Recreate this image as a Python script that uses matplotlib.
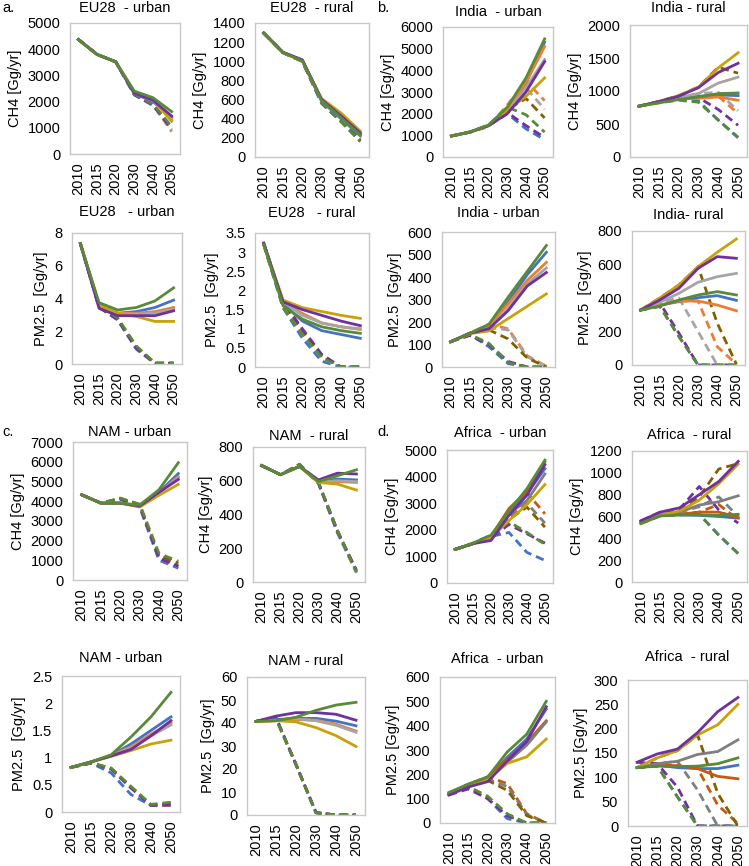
import matplotlib
matplotlib.use("Agg")
import matplotlib.pyplot as plt
from matplotlib.ticker import MultipleLocator, FuncFormatter

plt.rcParams['font.family'] = ['Liberation Sans', 'DejaVu Sans']

years = ["2010", "2015", "2020", "2030", "2040", "2050"]

# series order in every block: blue, orange, gray, gold, purple, green
eu_urban_ch4_solid = [
    [4370, 3800, 3520, 2300, 2000, 1400],
    [4370, 3800, 3520, 2330, 2050, 1300],
    [4370, 3800, 3520, 2330, 2030, 1350],
    [4370, 3800, 3520, 2350, 2080, 1250],
    [4370, 3800, 3520, 2320, 2050, 1450],
    [4370, 3800, 3520, 2400, 2150, 1620],
]
eu_urban_ch4_dashed = [
    [4370, 3800, 3520, 2250, 1850, 950],
    [4370, 3800, 3520, 2280, 1900, 850],
    [4370, 3800, 3520, 2270, 1880, 900],
    [4370, 3800, 3520, 2300, 1900, 1000],
    [4370, 3800, 3520, 2270, 1870, 950],
    [4370, 3800, 3520, 2290, 1900, 1050],
]
eu_rural_ch4_solid = [
    [1295, 1090, 1005, 580, 400, 220],
    [1295, 1090, 1010, 590, 420, 240],
    [1295, 1090, 1010, 590, 410, 230],
    [1295, 1090, 1010, 610, 460, 270],
    [1295, 1095, 1015, 600, 430, 250],
    [1295, 1090, 1005, 590, 410, 230],
]
eu_rural_ch4_dashed = [
    [1295, 1090, 1000, 560, 370, 160],
    [1295, 1090, 1000, 570, 380, 180],
    [1295, 1090, 1000, 570, 380, 175],
    [1295, 1090, 1000, 580, 390, 190],
    [1295, 1090, 1000, 565, 375, 170],
    [1295, 1090, 1000, 560, 370, 165],
]
india_urban_ch4_solid = [
    [970, 1150, 1450, 2100, 3400, 5300],
    [970, 1150, 1450, 2150, 3450, 5100],
    [970, 1150, 1450, 2100, 3200, 4500],
    [970, 1150, 1450, 2150, 2800, 3650],
    [970, 1150, 1450, 2000, 3000, 4400],
    [970, 1160, 1480, 2300, 3650, 5450],
]
india_urban_ch4_dashed = [
    [970, 1150, 1450, 2000, 1300, 800],
    [970, 1150, 1400, 2400, 3500, 2600],
    [970, 1150, 1450, 2300, 3200, 2200],
    [970, 1150, 1450, 2200, 2700, 1800],
    [970, 1150, 1450, 2050, 1450, 900],
    [970, 1160, 1480, 2300, 1950, 1150],
]
india_rural_ch4_solid = [
    [770, 830, 880, 920, 940, 930],
    [770, 830, 880, 890, 910, 860],
    [770, 830, 900, 960, 1120, 1210],
    [770, 840, 930, 1060, 1350, 1580],
    [770, 840, 920, 1050, 1280, 1420],
    [770, 820, 870, 910, 960, 970],
]
india_rural_ch4_dashed = [
    [770, 830, 870, 850, 560, 290],
    [770, 830, 880, 890, 920, 660],
    [770, 830, 900, 960, 980, 700],
    [770, 840, 930, 1060, 1360, 1270],
    [770, 840, 920, 900, 720, 480],
    [770, 820, 860, 830, 560, 300],
]
eu_urban_pm_solid = [
    [7.35, 3.6, 3.1, 3.2, 3.45, 3.9],
    [7.35, 3.6, 3.1, 3.1, 3.2, 3.45],
    [7.35, 3.6, 3.05, 3.05, 3.1, 3.35],
    [7.35, 3.6, 3.1, 2.9, 2.6, 2.6],
    [7.35, 3.4, 2.95, 2.95, 2.95, 3.25],
    [7.35, 3.75, 3.3, 3.45, 3.85, 4.65],
]
eu_urban_pm_dashed = [
    [7.35, 3.5, 2.7, 0.9, 0.03, 0.03],
    [7.35, 3.55, 2.75, 1.0, 0.05, 0.05],
    [7.35, 3.5, 2.7, 0.95, 0.04, 0.04],
    [7.35, 3.55, 2.8, 1.05, 0.06, 0.06],
    [7.35, 3.45, 2.7, 0.95, 0.04, 0.04],
    [7.35, 3.6, 2.8, 1.1, 0.06, 0.06],
]
eu_rural_pm_solid = [
    [3.22, 1.65, 1.2, 0.95, 0.85, 0.75],
    [3.22, 1.7, 1.4, 1.15, 1.05, 0.98],
    [3.22, 1.7, 1.35, 1.15, 1.05, 1.0],
    [3.22, 1.75, 1.55, 1.45, 1.35, 1.27],
    [3.24, 1.7, 1.5, 1.35, 1.2, 1.08],
    [3.2, 1.6, 1.25, 1.05, 0.95, 0.88],
]
eu_rural_pm_dashed = [
    [3.2, 1.55, 0.75, 0.15, 0.0, 0.0],
    [3.22, 1.7, 0.9, 0.28, 0.0, 0.0],
    [3.22, 1.65, 0.85, 0.25, 0.0, 0.0],
    [3.22, 1.7, 0.95, 0.3, 0.0, 0.0],
    [3.24, 1.7, 1.0, 0.33, 0.0, 0.0],
    [3.2, 1.55, 0.85, 0.25, 0.0, 0.0],
]
india_urban_pm_solid = [
    [112, 150, 175, 290, 410, 510],
    [112, 150, 185, 280, 385, 465],
    [112, 150, 170, 260, 370, 440],
    [112, 148, 160, 215, 270, 325],
    [112, 150, 170, 250, 360, 420],
    [112, 150, 190, 310, 425, 540],
]
india_urban_pm_dashed = [
    [112, 145, 90, 15, 0, 0],
    [112, 150, 190, 170, 50, 3],
    [112, 150, 175, 165, 45, 3],
    [112, 150, 165, 125, 40, 0],
    [112, 140, 100, 25, 0, 0],
    [112, 145, 105, 20, 0, 0],
]
india_rural_pm_solid = [
    [328, 358, 378, 402, 414, 386],
    [328, 358, 382, 382, 358, 324],
    [328, 374, 428, 494, 527, 547],
    [328, 400, 478, 587, 673, 752],
    [328, 388, 458, 577, 647, 637],
    [328, 352, 388, 418, 438, 418],
]
india_rural_pm_dashed = [
    [328, 350, 170, 0, 0, 0],
    [328, 358, 382, 382, 110, 5],
    [328, 374, 400, 200, 0, 0],
    [328, 400, 478, 587, 250, 5],
    [328, 370, 190, 0, 0, 0],
    [328, 350, 170, 0, 0, 0],
]
nam_urban_ch4_solid = [
    [4320, 3900, 3900, 3750, 4450, 5400],
    [4320, 3900, 3900, 3750, 4400, 5250],
    [4320, 3900, 3900, 3750, 4420, 5200],
    [4320, 3900, 3900, 3700, 4300, 4850],
    [4320, 3900, 3900, 3750, 4450, 5100],
    [4320, 3900, 3900, 3800, 4580, 5950],
]
nam_urban_ch4_dashed = [
    [4320, 3900, 4100, 3700, 1000, 600],
    [4320, 3900, 4100, 3750, 1150, 750],
    [4320, 3900, 4100, 3750, 1100, 700],
    [4320, 3900, 4150, 3800, 1250, 850],
    [4320, 3900, 4100, 3750, 1100, 700],
    [4320, 3900, 4150, 3850, 1350, 950],
]
nam_rural_ch4_solid = [
    [690, 636, 685, 595, 610, 605],
    [690, 636, 685, 590, 595, 590],
    [690, 636, 685, 592, 600, 595],
    [690, 636, 685, 590, 580, 545],
    [690, 636, 685, 605, 645, 640],
    [690, 636, 685, 595, 630, 665],
]
nam_rural_ch4_dashed = [
    [690, 636, 692, 585, 290, 55],
    [690, 636, 695, 585, 300, 60],
    [690, 636, 693, 585, 295, 58],
    [690, 636, 697, 588, 305, 65],
    [690, 636, 694, 585, 298, 70],
    [690, 636, 698, 590, 305, 60],
]
africa_urban_ch4_solid = [
    [1265, 1480, 1750, 2650, 3350, 4300],
    [1265, 1480, 1750, 2800, 3450, 4550],
    [1265, 1480, 1750, 2600, 3100, 4100],
    [1265, 1480, 1700, 2350, 2950, 3700],
    [1265, 1480, 1600, 2550, 3300, 4450],
    [1265, 1500, 1800, 2700, 3550, 4620],
]
africa_urban_ch4_dashed = [
    [1265, 1480, 1750, 1900, 1150, 850],
    [1265, 1480, 1750, 2500, 3400, 2600],
    [1265, 1480, 1750, 2450, 3000, 2250],
    [1265, 1480, 1750, 2400, 2850, 2100],
    [1265, 1480, 1700, 2200, 1850, 1500],
    [1265, 1500, 1800, 2300, 1900, 1450],
]
africa_rural_ch4_solid = [
    [547, 610, 615, 610, 600, 585],
    [547, 610, 620, 640, 640, 590],
    [547, 615, 640, 705, 735, 790],
    [547, 615, 650, 750, 900, 1080],
    [560, 640, 680, 800, 920, 1105],
    [535, 605, 615, 615, 610, 620],
]
africa_rural_ch4_dashed = [
    [547, 610, 615, 620, 430, 260],
    [547, 610, 620, 640, 710, 570],
    [547, 615, 640, 690, 780, 600],
    [547, 615, 650, 780, 1035, 1085],
    [560, 640, 670, 875, 660, 540],
    [535, 605, 615, 620, 430, 260],
]
nam_urban_pm_solid = [
    [0.82, 0.92, 1.04, 1.25, 1.5, 1.75],
    [0.82, 0.92, 1.04, 1.2, 1.43, 1.64],
    [0.82, 0.92, 1.03, 1.18, 1.4, 1.6],
    [0.82, 0.92, 1.02, 1.13, 1.25, 1.32],
    [0.82, 0.92, 1.03, 1.15, 1.4, 1.68],
    [0.82, 0.92, 1.05, 1.38, 1.75, 2.2],
]
nam_urban_pm_dashed = [
    [0.82, 0.9, 0.72, 0.32, 0.12, 0.12],
    [0.82, 0.9, 0.8, 0.45, 0.12, 0.12],
    [0.82, 0.9, 0.8, 0.45, 0.13, 0.14],
    [0.82, 0.9, 0.8, 0.46, 0.13, 0.15],
    [0.82, 0.9, 0.79, 0.44, 0.12, 0.13],
    [0.82, 0.9, 0.81, 0.47, 0.14, 0.18],
]
nam_rural_pm_solid = [
    [40.7, 41.5, 42, 42, 40.8, 38.8],
    [40.7, 41, 41.5, 41.2, 39.5, 36.5],
    [40.7, 41, 41.8, 41, 39, 36],
    [40.7, 41, 40.5, 38, 34.5, 29.8],
    [40.7, 43, 44.5, 44.5, 43.8, 41.2],
    [40.7, 41, 42.5, 45.5, 47.8, 49],
]
nam_rural_pm_dashed = [
    [40.7, 42, 21.8, 1.0, 0, 0],
    [40.7, 42, 21.8, 1.0, 0, 0],
    [40.7, 42, 21.8, 1.0, 0, 0],
    [40.7, 42, 22, 1.0, 0, 0],
    [40.7, 42.5, 22, 1.0, 0, 0],
    [40.7, 42, 22, 1.0, 0, 0],
]
africa_urban_pm_solid = [
    [120, 158, 185, 270, 345, 468],
    [120, 158, 190, 262, 330, 420],
    [120, 158, 180, 250, 320, 415],
    [120, 158, 180, 245, 272, 345],
    [115, 148, 170, 255, 335, 478],
    [125, 160, 189, 292, 365, 500],
]
africa_urban_pm_dashed = [
    [120, 145, 100, 18, 0, 0],
    [120, 158, 190, 162, 38, 0],
    [120, 158, 180, 150, 35, 0],
    [120, 158, 175, 134, 30, 0],
    [115, 140, 100, 30, 0, 0],
    [125, 150, 110, 38, 0, 0],
]
africa_rural_pm_solid = [
    [120, 125, 120, 118, 118, 125],
    [120, 125, 124, 118, 102, 97],
    [120, 128, 133, 147, 153, 177],
    [120, 140, 155, 187, 208, 250],
    [131, 148, 158, 192, 235, 264],
    [120, 123, 122, 123, 128, 140],
]
africa_rural_pm_dashed = [
    [120, 123, 60, 0, 0, 0],
    [120, 125, 124, 118, 43, 5],
    [120, 128, 133, 74, 0, 0],
    [120, 140, 155, 187, 67, 0],
    [131, 128, 80, 0, 0, 0],
    [120, 123, 60, 0, 0, 0],
]

titles = ["EU28  - urban", "EU28  - rural", "India  - urban", "India - rural",
          "EU28   - urban", "EU28   - rural", "India - urban", "India- rural",
          "NAM - urban", "NAM  - rural", "Africa  - urban", "Africa  - rural",
          "NAM - urban", "NAM - rural", "Africa  - urban", "Africa  - rural"]
ylabels = ["CH4 [Gg/yr]"] * 4 + ["PM2.5  [Gg/yr]"] * 4 + ["CH4 [Gg/yr]"] * 4 + \
          ["PM2.5  [Gg/yr]", "PM2.5  [Gg/yr]", "PM2.5 [Gg/yr]", "PM2.5 [Gg/yr]"]
ymax = [5000, 1400, 6000, 2000, 8, 3.5, 600, 800,
        7000, 800, 5000, 1200, 2.5, 60, 600, 300]
ystep = [1000, 200, 1000, 500, 2, 0.5, 100, 200,
         1000, 200, 1000, 200, 0.5, 10, 100, 50]
solid = [eu_urban_ch4_solid, eu_rural_ch4_solid, india_urban_ch4_solid, india_rural_ch4_solid,
         eu_urban_pm_solid, eu_rural_pm_solid, india_urban_pm_solid, india_rural_pm_solid,
         nam_urban_ch4_solid, nam_rural_ch4_solid, africa_urban_ch4_solid, africa_rural_ch4_solid,
         nam_urban_pm_solid, nam_rural_pm_solid, africa_urban_pm_solid, africa_rural_pm_solid]
dashed = [eu_urban_ch4_dashed, eu_rural_ch4_dashed, india_urban_ch4_dashed, india_rural_ch4_dashed,
          eu_urban_pm_dashed, eu_rural_pm_dashed, india_urban_pm_dashed, india_rural_pm_dashed,
          nam_urban_ch4_dashed, nam_rural_ch4_dashed, africa_urban_ch4_dashed, africa_rural_ch4_dashed,
          nam_urban_pm_dashed, nam_rural_pm_dashed, africa_urban_pm_dashed, africa_rural_pm_dashed]

# layout in pixels: left, top, right, bottom of each plot area
boxes = [(70, 23, 180, 154), (255, 23, 369, 157), (443, 27, 553, 157), (630, 25, 747, 157),
         (72, 233, 182, 364), (255, 233, 369, 367), (442, 232, 555, 367), (632, 231, 745, 365),
         (73, 442, 187, 580), (253, 447, 365, 582), (447, 450, 553, 583), (632, 451, 747, 582),
         (62, 676, 180, 812), (247, 677, 365, 815), (440, 677, 555, 823), (628, 680, 747, 826)]
title_y = [8, 8, 12, 8, 212, 213, 213, 215, 432, 436, 433, 435, 658, 661, 659, 657]

solid_colors = ['#4472C4', '#ED7D31', '#A5A5A5', '#C9A10A', '#7030A0', '#588A38']
dashed_colors = ['#4472C4', '#ED7D31', '#A5A5A5', '#806000', '#7030A0', '#588A38']
africa_solid = ['#4472C4', '#C55A11', '#7F7F7F', '#C9A10A', '#7030A0', '#588A38']
africa_dashed = ['#4472C4', '#C55A11', '#7F7F7F', '#806000', '#7030A0', '#588A38']

FS = 10.5
W, H = 749, 866
fig = plt.figure(figsize=(W / 100, H / 100), dpi=100)

for i in range(16):
    l, t, r, b = boxes[i]
    ax = fig.add_axes([l / W, 1 - b / H, (r - l) / W, (b - t) / H])
    africa = i in (10, 11, 14, 15)
    sc = africa_solid if africa else solid_colors
    dc = africa_dashed if africa else dashed_colors
    x = range(len(years))
    for k, vals in enumerate(dashed[i]):
        ax.plot(x, vals, color=dc[k], lw=2.0, linestyle=(0, (3, 1.8)))
    for k, vals in enumerate(solid[i]):
        ax.plot(x, vals, color=sc[k], lw=2.0)
    ax.set_xlim(-0.45, 5.45)
    ax.set_ylim(0, ymax[i])
    ax.set_xticks(list(x))
    ax.set_xticklabels(years, rotation=90)
    ax.yaxis.set_major_locator(MultipleLocator(ystep[i]))
    ax.yaxis.set_major_formatter(FuncFormatter(lambda v, p: f"{v:g}"))
    ax.tick_params(axis='y', length=0, pad=7, labelsize=FS)
    ax.tick_params(axis='x', length=0, pad=6, labelsize=FS)
    for s in ax.spines.values():
        s.set_color('#C8C8C8')
        s.set_linewidth(1)
    ax.set_ylabel(ylabels[i], fontsize=FS, labelpad=4)
    fig.text((l + r) / 2 / W, 1 - title_y[i] / H, titles[i], ha='center', va='center', fontsize=FS)

for lab, px, py in [("a.", 2, 8), ("b.", 377, 8), ("c.", 2, 432), ("d.", 377, 432)]:
    fig.text(px / W, 1 - py / H, lab, ha='left', va='center', fontsize=FS)

fig.savefig("out.png", dpi=100)
